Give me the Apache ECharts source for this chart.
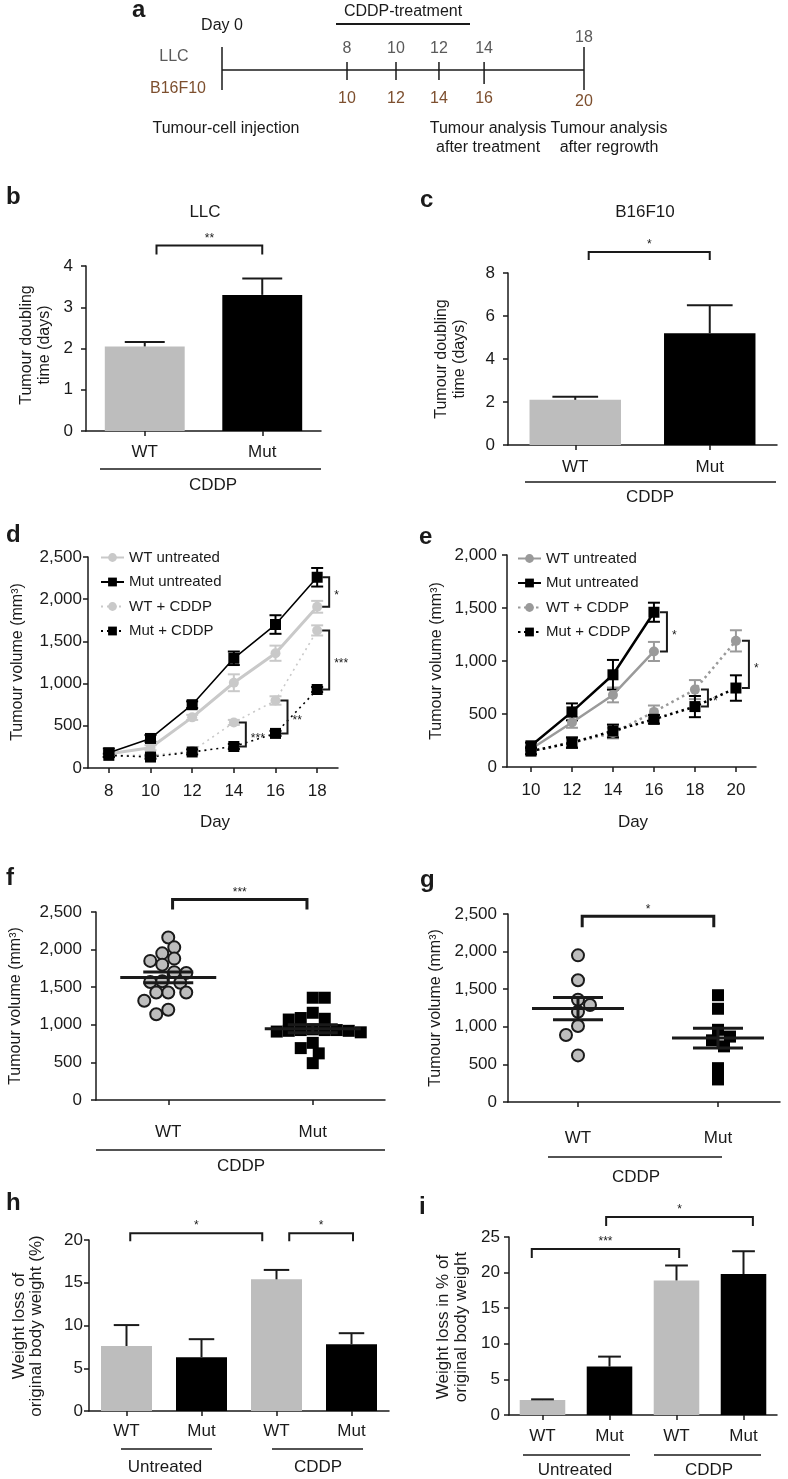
<!DOCTYPE html>
<html>
<head>
<meta charset="utf-8">
<title>Tumour growth figure</title>
<script src="https://cdn.jsdelivr.net/npm/echarts@6.0.0/dist/echarts.min.js"></script>
<style>
html,body{margin:0;padding:0;background:#ffffff;}
#chart{width:788px;height:1479px;}
</style>
</head>
<body>
<div id="chart"></div>
<script>
// ================= DATA =================
// a: experimental timeline
const timelineLLCDays = ['Day 0', '8', '10', '12', '14', '18'];
const timelineB16F10Days = ['', '10', '12', '14', '16', '20'];
const timelineNotes = ['Tumour-cell injection', '', '', '', 'Tumour analysis\nafter treatment', 'Tumour analysis\nafter regrowth'];

// b, c: tumour doubling time (days)
const doublingCategories = ['WT', 'Mut'];
const llcDoubling = [2.05, 3.30];
const llcDoublingErr = [0.11, 0.40];
const b16Doubling = [2.10, 5.20];
const b16DoublingErr = [0.15, 1.30];

// d: LLC tumour volume (mm3)
const llcDays = [8, 10, 12, 14, 16, 18];
const llcWTUntreated = [170, 240, 600, 1010, 1360, 1910];
const llcWTUntreatedErr = [30, 30, 30, 100, 90, 70];
const llcMutUntreated = [180, 350, 750, 1300, 1700, 2260];
const llcMutUntreatedErr = [50, 40, 40, 80, 110, 110];
const llcWTCDDP = [150, 150, 200, 540, 800, 1630];
const llcWTCDDPErr = [20, 20, 20, 30, 50, 60];
const llcMutCDDP = [150, 130, 190, 255, 410, 930];
const llcMutCDDPErr = [20, 20, 30, 30, 30, 30];

// e: B16F10 tumour volume (mm3)
const b16Days = [10, 12, 14, 16, 18, 20];
const b16WTUntreated = [170, 420, 680, 1090];
const b16WTUntreatedErr = [20, 50, 70, 90];
const b16MutUntreated = [200, 520, 870, 1460];
const b16MutUntreatedErr = [30, 80, 140, 90];
const b16WTCDDP = [150, 230, 320, 520, 730, 1190];
const b16WTCDDPErr = [20, 40, 50, 60, 90, 100];
const b16MutCDDP = [150, 230, 340, 450, 570, 745];
const b16MutCDDPErr = [30, 50, 60, 40, 100, 120];

// f, g: individual tumour volumes (mm3)
const volumeCategories = ['WT', 'Mut'];
const llcVolumeWT = [2160, 2030, 1950, 1880, 1850, 1800, 1700, 1690, 1580, 1570, 1560, 1430, 1430, 1430, 1320, 1200, 1140];
const llcVolumeMut = [1360, 1360, 1160, 1090, 1080, 1070, 930, 920, 940, 930, 930, 920, 910, 900, 760, 690, 620, 490];
const b16VolumeWT = [1950, 1620, 1360, 1290, 1200, 1010, 890, 620];
const b16VolumeMut = [1420, 1240, 960, 870, 820, 740, 450, 300];

// h, i: weight loss (%)
const weightGenotypes = ['WT', 'Mut', 'WT', 'Mut'];
const weightGroups = ['Untreated', 'CDDP'];
const llcWeightLoss = [7.6, 6.3, 15.4, 7.8];
const llcWeightLossErr = [2.45, 2.1, 1.1, 1.3];
const b16WeightLoss = [2.1, 6.8, 18.9, 19.8];
const b16WeightLossErr = [0.1, 1.4, 2.1, 3.2];

// significance annotations
const llcDoublingSig = [{from: 0, to: 1, y: 4.5, text: '**', shift: [0.1, 0]}];
const b16DoublingSig = [{from: 0, to: 1, y: 8.98, text: '*', shift: [0.1, 0]}];
const llcGrowthSig = [
  {day: 18, y1: llcMutUntreated[5], y2: llcWTUntreated[5], text: '*'},
  {day: 18, y1: llcWTCDDP[5], y2: llcMutCDDP[5], text: '***'},
  {day: 16, y1: llcWTCDDP[4], y2: llcMutCDDP[4], text: '**'},
  {day: 14, y1: llcWTCDDP[3], y2: llcMutCDDP[3], text: '***'}
];
const b16GrowthSig = [
  {day: 16, y1: b16MutUntreated[3], y2: b16WTUntreated[3], text: '*'},
  {day: 18, y1: b16WTCDDP[4], y2: b16MutCDDP[4], text: '*'},
  {day: 20, y1: b16WTCDDP[5], y2: b16MutCDDP[5], text: '*'}
];
const llcVolumeSig = [{from: 0.03, to: 0.96, y: 2667, text: '***'}];
const b16VolumeSig = [{from: 0.03, to: 0.97, y: 2470, text: '*'}];
const llcWeightSig = [
  {from: 0, to: 2, y: 20.8, text: '*', shift: [0.05, -0.19]},
  {from: 2, to: 3, y: 20.8, text: '*', shift: [0.17, 0.02]}
];
const b16WeightSig = [
  {from: 0, to: 2, y: 23.3, text: '***', shift: [-0.16, 0.04]},
  {from: 1, to: 3, y: 27.8, text: '*', shift: [-0.05, 0.14]}
];

// ================= STYLE / LAYOUT =================
const FONT = '"Liberation Sans", Arial, Helvetica, sans-serif';
const INK = '#1a1a1a';
const LIGHT = '#bdbdbd';
const LLC_GREY = '#5a5a5a';
const BROWN = '#7d4f2e';
const D_GREY = '#c9c9c9';
const E_GREY = '#9a9a9a';
const A_SLOTS = [0, 5.18, 7.21, 8.99, 10.86, 15];
const NOTE_DX = [4, 0, 0, 0, 4, 25];

function fmtThousands(v) { return String(v).replace(/\B(?=(\d{3})+(?!\d))/g, ','); }

const G = (left, top, width, height) => ({left, top, width, height, containLabel: false, outerBoundsMode: 'none'});
const grids = [
  G(222, 48, 362, 44),   // a
  G(86, 266, 235, 165),  // b
  G(508, 273, 269, 172), // c
  G(88, 557, 250, 211),  // d
  G(507, 555, 249, 212), // e
  G(96, 912, 289, 188),  // f
  G(508, 914, 272, 188), // g
  G(89, 1240, 300, 171), // h
  G(509, 1237, 268, 178) // i
];

const axisLineStyle = {color: INK, width: 1.5};
function yVal(gi, max, interval, margin, fmt) {
  return {type: 'value', gridIndex: gi, min: 0, max: max, interval: interval,
    axisLine: {show: true, onZero: false, lineStyle: axisLineStyle},
    axisTick: {show: true, length: 5, lineStyle: axisLineStyle},
    axisLabel: {color: INK, fontSize: 17, fontFamily: FONT, margin: margin, formatter: fmt},
    splitLine: {show: false}};
}
function xCat(gi, data, margin, fmt) {
  return {type: 'category', gridIndex: gi, data: data, boundaryGap: true,
    axisLine: {show: true, onZero: false, lineStyle: axisLineStyle},
    axisTick: {show: true, alignWithLabel: true, length: 5, lineStyle: axisLineStyle},
    axisLabel: {color: INK, fontSize: 17, fontFamily: FONT, margin: margin, formatter: fmt, interval: 0},
    splitLine: {show: false}};
}
function xVal(gi, min, max, ticks, margin, fmt) {
  return {type: 'value', gridIndex: gi, min: min, max: max,
    axisLine: {show: true, onZero: false, lineStyle: axisLineStyle},
    axisTick: {show: true, length: 5, lineStyle: axisLineStyle, customValues: ticks},
    axisLabel: {show: true, color: INK, fontSize: 17, fontFamily: FONT, margin: margin, customValues: ticks, formatter: fmt},
    splitLine: {show: false}};
}

// ================= RENDER HELPERS =================
function upperErr(params, api) {
  const x = api.value(0), v = api.value(1), e = api.value(2);
  const p0 = api.coord([x, v]), p1 = api.coord([x, v + e]);
  const cap = api.size([1, 0])[0] * 0.68 * 0.25;
  const st = {stroke: INK, lineWidth: 2};
  return {type: 'group', children: [
    {type: 'line', shape: {x1: p0[0], y1: p0[1], x2: p1[0], y2: p1[1]}, style: st},
    {type: 'line', shape: {x1: p1[0] - cap, y1: p1[1], x2: p1[0] + cap, y2: p1[1]}, style: st}
  ]};
}
function symErr(color, capHalf, lw) {
  return function (params, api) {
    const x = api.value(0), v = api.value(1), e = api.value(2);
    const lo = api.coord([x, v - e]), hi = api.coord([x, v + e]);
    const st = {stroke: color, lineWidth: lw};
    return {type: 'group', children: [
      {type: 'line', shape: {x1: lo[0], y1: lo[1], x2: hi[0], y2: hi[1]}, style: st},
      {type: 'line', shape: {x1: hi[0] - capHalf, y1: hi[1], x2: hi[0] + capHalf, y2: hi[1]}, style: st},
      {type: 'line', shape: {x1: lo[0] - capHalf, y1: lo[1], x2: lo[0] + capHalf, y2: lo[1]}, style: st}
    ]};
  };
}
function bracketSeries(gi, list, legPx, lw, fs) {
  return {type: 'custom', xAxisIndex: gi, yAxisIndex: gi, z: 6, silent: true,
    data: list.map(b => [b.from, b.y]),
    renderItem: function (params, api) {
      const b = list[params.dataIndex];
      const unit = api.size([1, 1])[0];
      const pa = api.coord([b.from, b.y]), pb = api.coord([b.to, b.y]);
      const sh = b.shift || [0, 0];
      const x1 = pa[0] + sh[0] * unit, x2 = pb[0] + sh[1] * unit, y = pa[1];
      return {type: 'group', children: [
        {type: 'polyline', shape: {points: [[x1, y + legPx], [x1, y], [x2, y], [x2, y + legPx]]}, style: {stroke: INK, lineWidth: lw, fill: null}},
        {type: 'text', x: (x1 + x2) / 2, y: y - 1, style: {text: b.text, fill: INK, font: fs + 'px ' + FONT, align: 'center', verticalAlign: 'bottom'}}
      ]};
    }};
}
function vBracketSeries(gi, list, dx, arm, fs) {
  return {type: 'custom', xAxisIndex: gi, yAxisIndex: gi, z: 6, silent: true,
    data: list.map(b => [b.day, b.y1]),
    renderItem: function (params, api) {
      const b = list[params.dataIndex];
      const p1 = api.coord([b.day, b.y1]), p2 = api.coord([b.day, b.y2]);
      const x = p1[0] + dx;
      return {type: 'group', children: [
        {type: 'polyline', shape: {points: [[x - arm, p1[1]], [x, p1[1]], [x, p2[1]], [x - arm, p2[1]]]}, style: {stroke: INK, lineWidth: 2, fill: null}},
        {type: 'text', x: x + 5, y: (p1[1] + p2[1]) / 2 + 4, style: {text: b.text, fill: INK, font: fs + 'px ' + FONT, align: 'left', verticalAlign: 'middle'}}
      ]};
    }};
}
function meanSem(arr) {
  const n = arr.length;
  const m = arr.reduce((a, b) => a + b, 0) / n;
  const sd = Math.sqrt(arr.reduce((a, b) => a + (b - m) * (b - m), 0) / (n - 1));
  return [m, sd / Math.sqrt(n)];
}
function meanSemSeries(gi, stats, halfMean, halfSem) {
  return {type: 'custom', xAxisIndex: gi, yAxisIndex: gi, z: 5, silent: true,
    data: stats.map((s, i) => [i, s[0], s[1]]),
    renderItem: function (params, api) {
      const x = api.value(0), m = api.value(1), s = api.value(2);
      const pm = api.coord([x, m]), ph = api.coord([x, m + s]), pl = api.coord([x, m - s]);
      const st = {stroke: INK, lineWidth: 3};
      return {type: 'group', children: [
        {type: 'line', shape: {x1: pm[0] - halfMean, y1: pm[1], x2: pm[0] + halfMean, y2: pm[1]}, style: st},
        {type: 'line', shape: {x1: ph[0] - halfSem, y1: ph[1], x2: ph[0] + halfSem, y2: ph[1]}, style: st},
        {type: 'line', shape: {x1: pl[0] - halfSem, y1: pl[1], x2: pl[0] + halfSem, y2: pl[1]}, style: st},
        {type: 'line', shape: {x1: pm[0], y1: ph[1], x2: pm[0], y2: pl[1]}, style: st}
      ]};
    }};
}
// simple beeswarm: horizontal offsets (in x units) so markers only slightly overlap
function beeswarm(values, pxPerY, pxPerX, diam) {
  const order = values.map((v, i) => i).sort((a, b) => values[b] - values[a]);
  const placed = [];
  const offs = values.map(() => 0);
  const step = diam * 0.5;
  let flip = 1;
  order.forEach(i => {
    const y = values[i] * pxPerY;
    let best = 0;
    for (let k = 0; k < 60; k++) {
      const cands = k === 0 ? [0] : [flip * k * step, -flip * k * step];
      let found = null;
      for (const x of cands) {
        if (placed.every(p => Math.hypot(p.x - x, p.y - y) >= diam * 0.92)) { found = x; break; }
      }
      if (found !== null) { best = found; break; }
    }
    if (best !== 0) flip = -flip;
    placed.push({x: best, y: y});
    offs[i] = best / pxPerX;
  });
  return offs;
}
function barSeries(gi, values, errs) {
  return [
    {type: 'bar', xAxisIndex: gi, yAxisIndex: gi, barWidth: '68%', z: 2,
      data: values.map((v, i) => ({value: v, itemStyle: {color: i % 2 === 0 ? LIGHT : '#000000'}}))},
    {type: 'custom', xAxisIndex: gi, yAxisIndex: gi, z: 3, silent: true, renderItem: upperErr,
      data: values.map((v, i) => [i, v, errs[i]])}
  ];
}
function lineWithErr(gi, key, name, days, vals, errs, color, width, dash, symbol, size) {
  return [
    {type: 'custom', xAxisIndex: gi, yAxisIndex: gi, z: 2, silent: true,
      renderItem: symErr(color, 6, 2), data: vals.map((v, i) => [days[i], v, errs[i]])},
    {type: 'line', name: key + '|' + name, xAxisIndex: gi, yAxisIndex: gi, z: 3,
      data: vals.map((v, i) => [days[i], v]), symbol: symbol, symbolSize: size, showSymbol: true,
      lineStyle: {color: color, width: width, type: dash || 'solid'},
      itemStyle: {color: color, borderWidth: 0}}
  ];
}

// ================= BUILD =================
const fStats = [meanSem(llcVolumeWT), meanSem(llcVolumeMut)];
const gStats = [meanSem(b16VolumeWT), meanSem(b16VolumeMut)];
const fOffWT = beeswarm(llcVolumeWT, 188 / 2500, 289 / 2, 12);
const fOffMut = beeswarm(llcVolumeMut, 188 / 2500, 289 / 2, 12);
const gOffWT = beeswarm(b16VolumeWT, 188 / 2500, 140, 12);
const gOffMut = beeswarm(b16VolumeMut, 188 / 2500, 140, 12);

const xAxes = [
  {type: 'value', gridIndex: 0, min: 0, max: 15, show: false},
  xCat(1, doublingCategories, 13),
  xCat(2, doublingCategories, 14),
  xVal(3, 7, 19, llcDays, 15, v => String(v)),
  xVal(4, 8.83, 20.98, b16Days, 15, v => String(v)),
  xVal(5, -0.5, 1.5, [0, 1], 24, v => volumeCategories[Math.round(v)]),
  xVal(6, -0.5, 1.443, [0, 1], 28, v => volumeCategories[Math.round(v)]),
  xCat(7, weightGenotypes.map((g, i) => String(i)), 12, v => weightGenotypes[+v]),
  xCat(8, weightGenotypes.map((g, i) => String(i)), 13, v => weightGenotypes[+v])
];
const yAxes = [
  {type: 'value', gridIndex: 0, min: -1, max: 1, show: false},
  yVal(1, 4, 1, 13),
  yVal(2, 8, 2, 13),
  yVal(3, 2500, 500, 6, fmtThousands),
  yVal(4, 2000, 500, 10, fmtThousands),
  yVal(5, 2500, 500, 14, fmtThousands),
  yVal(6, 2500, 500, 11, fmtThousands),
  yVal(7, 20, 5, 6),
  yVal(8, 25, 5, 9)
];

const series = [];
// a: timeline
series.push({type: 'custom', xAxisIndex: 0, yAxisIndex: 0, silent: true,
  data: A_SLOTS.map(s => [s, 0]),
  renderItem: function (params, api) {
    const i = params.dataIndex, n = timelineLLCDays.length;
    const p = api.coord([api.value(0), 0]);
    const major = i === 0 || i === n - 1;
    const kids = [];
    const st = {stroke: INK, lineWidth: 1.5};
    if (i === 0) {
      const q = api.coord([A_SLOTS[n - 1], 0]);
      kids.push({type: 'line', shape: {x1: p[0], y1: p[1], x2: q[0], y2: q[1]}, style: st});
    }
    const up = major ? 23 : 8, down = major ? 20 : (i === n - 2 ? 14 : 10);
    kids.push({type: 'line', shape: {x1: p[0], y1: p[1] - up, x2: p[0], y2: p[1] + down}, style: st});
    kids.push({type: 'text', x: p[0], y: p[1] - (i === 0 ? 44 : (major ? 32 : 21.5)),
      style: {text: timelineLLCDays[i], fill: i === 0 ? INK : LLC_GREY, font: '16px ' + FONT, align: 'center', verticalAlign: 'middle'}});
    if (timelineB16F10Days[i]) {
      kids.push({type: 'text', x: p[0], y: p[1] + (major ? 31.5 : 28.5),
        style: {text: timelineB16F10Days[i], fill: BROWN, font: '16px ' + FONT, align: 'center', verticalAlign: 'middle'}});
    }
    if (timelineNotes[i]) {
      kids.push({type: 'text', x: p[0] + NOTE_DX[i], y: p[1] + 49,
        style: {text: timelineNotes[i], fill: INK, font: '16px ' + FONT, align: 'center', verticalAlign: 'top', lineHeight: 19}});
    }
    return {type: 'group', children: kids};
  }});
// b, c
series.push(...barSeries(1, llcDoubling, llcDoublingErr));
series.push(bracketSeries(1, llcDoublingSig, 9, 2, 12));
series.push(...barSeries(2, b16Doubling, b16DoublingErr));
series.push(bracketSeries(2, b16DoublingSig, 8, 2, 12));
// d
series.push(...lineWithErr(3, 'd', 'WT untreated', llcDays, llcWTUntreated, llcWTUntreatedErr, D_GREY, 3, 'solid', 'circle', 10));
series.push(...lineWithErr(3, 'd', 'Mut untreated', llcDays, llcMutUntreated, llcMutUntreatedErr, '#000000', 1.6, 'solid', 'rect', 11));
series.push(...lineWithErr(3, 'd', 'WT + CDDP', llcDays, llcWTCDDP, llcWTCDDPErr, D_GREY, 1.6, [2, 4], 'circle', 10));
series.push(...lineWithErr(3, 'd', 'Mut + CDDP', llcDays, llcMutCDDP, llcMutCDDPErr, '#000000', 1.6, [2, 4], 'rect', 11));
series.push(vBracketSeries(3, llcGrowthSig, 12, 7, 12));
// e
series.push(...lineWithErr(4, 'e', 'WT untreated', b16Days.slice(0, 4), b16WTUntreated, b16WTUntreatedErr, E_GREY, 2.5, 'solid', 'circle', 10));
series.push(...lineWithErr(4, 'e', 'Mut untreated', b16Days.slice(0, 4), b16MutUntreated, b16MutUntreatedErr, '#000000', 2.5, 'solid', 'rect', 11));
series.push(...lineWithErr(4, 'e', 'WT + CDDP', b16Days, b16WTCDDP, b16WTCDDPErr, E_GREY, 2.5, [2.5, 3.5], 'circle', 10));
series.push(...lineWithErr(4, 'e', 'Mut + CDDP', b16Days, b16MutCDDP, b16MutCDDPErr, '#000000', 2.5, [2.5, 3.5], 'rect', 11));
series.push(vBracketSeries(4, b16GrowthSig, 13, 7, 12));
// f
series.push({type: 'scatter', xAxisIndex: 5, yAxisIndex: 5, z: 3, symbol: 'circle', symbolSize: 12,
  itemStyle: {color: LIGHT, borderColor: INK, borderWidth: 2, opacity: 1},
  data: llcVolumeWT.map((v, i) => [0 + fOffWT[i], v])});
series.push({type: 'scatter', xAxisIndex: 5, yAxisIndex: 5, z: 3, symbol: 'rect', symbolSize: 12,
  itemStyle: {color: '#000000', opacity: 1},
  data: llcVolumeMut.map((v, i) => [1 + fOffMut[i], v])});
series.push(meanSemSeries(5, fStats, 48, 25));
series.push(bracketSeries(5, llcVolumeSig, 10, 3, 12));
// g
series.push({type: 'scatter', xAxisIndex: 6, yAxisIndex: 6, z: 3, symbol: 'circle', symbolSize: 12,
  itemStyle: {color: LIGHT, borderColor: INK, borderWidth: 2, opacity: 1},
  data: b16VolumeWT.map((v, i) => [0 + gOffWT[i], v])});
series.push({type: 'scatter', xAxisIndex: 6, yAxisIndex: 6, z: 3, symbol: 'rect', symbolSize: 12,
  itemStyle: {color: '#000000', opacity: 1},
  data: b16VolumeMut.map((v, i) => [1 + gOffMut[i], v])});
series.push(meanSemSeries(6, gStats, 46, 25));
series.push(bracketSeries(6, b16VolumeSig, 11, 3, 12));
// h, i
series.push(...barSeries(7, llcWeightLoss, llcWeightLossErr));
series.push(bracketSeries(7, llcWeightSig, 8, 2, 12));
series.push(...barSeries(8, b16WeightLoss, b16WeightLossErr));
series.push(bracketSeries(8, b16WeightSig, 9, 2, 12));

// ================= TEXT / DECORATION =================
function T(text, x, y, o) {
  o = o || {};
  return {type: 'text', x: x, y: y, rotation: o.rot || 0, silent: true, z: 10,
    style: {text: text, fill: o.color || INK, font: (o.bold ? 'bold ' : '') + (o.size || 17) + 'px ' + FONT,
      align: o.align || 'center', verticalAlign: 'middle', lineHeight: o.lh || Math.round((o.size || 17) * 1.15)}};
}
function L(x1, y1, x2, y2, w) {
  return {type: 'line', silent: true, z: 10, shape: {x1: x1, y1: y1, x2: x2, y2: y2}, style: {stroke: INK, lineWidth: w || 1.5}};
}
const R = Math.PI / 2;
const graphics = [
  // panel letters
  T('a', 132, 10, {bold: true, size: 24, align: 'left'}),
  T('b', 6, 197, {bold: true, size: 24, align: 'left'}),
  T('c', 420, 200, {bold: true, size: 24, align: 'left'}),
  T('d', 6, 535, {bold: true, size: 24, align: 'left'}),
  T('e', 419, 537, {bold: true, size: 24, align: 'left'}),
  T('f', 6, 878, {bold: true, size: 24, align: 'left'}),
  T('g', 420, 880, {bold: true, size: 24, align: 'left'}),
  T('h', 6, 1203, {bold: true, size: 24, align: 'left'}),
  T('i', 419, 1207, {bold: true, size: 24, align: 'left'}),
  // a
  T('CDDP-treatment', 403, 12, {size: 16}),
  L(336, 24, 470, 24, 2),
  T('LLC', 174, 57, {size: 16, color: LLC_GREY}),
  T('B16F10', 178, 89, {size: 16, color: BROWN}),
  // b
  T('LLC', 205, 212),
  T('Tumour doubling\ntime (days)', 36, 345, {rot: R, size: 16, lh: 18}),
  L(100, 469, 321, 469),
  T('CDDP', 213, 485),
  // c
  T('B16F10', 645, 212),
  T('Tumour doubling\ntime (days)', 451, 359, {rot: R, size: 16, lh: 18}),
  L(525, 482, 776, 482),
  T('CDDP', 650, 497),
  // d
  T('Tumour volume (mm³)', 18, 662, {rot: R, size: 16}),
  T('Day', 215, 822),
  // e
  T('Tumour volume (mm³)', 437, 661, {rot: R, size: 16}),
  T('Day', 633, 822),
  // f
  T('Tumour volume (mm³)', 16, 1006, {rot: R, size: 16}),
  L(96, 1150, 385, 1150),
  T('CDDP', 241, 1166),
  // g
  T('Tumour volume (mm³)', 436, 1008, {rot: R, size: 16}),
  L(548, 1157, 722, 1157),
  T('CDDP', 636, 1177),
  // h
  T('Weight loss of\noriginal body weight (%)', 28, 1326, {rot: R, size: 17, lh: 17}),
  L(121, 1449, 212, 1449),
  L(272, 1449, 363, 1449),
  T(weightGroups[0], 165, 1467),
  T(weightGroups[1], 318, 1467),
  // i
  T('Weight loss in % of\noriginal body weight', 452, 1327, {rot: R, size: 17, lh: 18}),
  L(523, 1455, 630, 1455),
  L(654, 1455, 761, 1455),
  T(weightGroups[0], 575, 1470),
  T(weightGroups[1], 709, 1470)
];

const legendBase = {orient: 'vertical', itemWidth: 23, itemHeight: 11, itemGap: 9.5, padding: 0, selectedMode: false,
  textStyle: {fontSize: 15, fontFamily: FONT, color: INK}, formatter: n => n.split('|')[1]};
const legendNames = ['WT untreated', 'Mut untreated', 'WT + CDDP', 'Mut + CDDP'];

const option = {
  animation: false,
  backgroundColor: '#ffffff',
  textStyle: {fontFamily: FONT},
  grid: grids,
  xAxis: xAxes,
  yAxis: yAxes,
  legend: [
    Object.assign({}, legendBase, {left: 100, top: 550, data: legendNames.map(n => 'd|' + n)}),
    Object.assign({}, legendBase, {left: 517, top: 551, data: legendNames.map(n => 'e|' + n)})
  ],
  series: series,
  graphic: {elements: graphics}
};

const chart = echarts.init(document.getElementById('chart'), null, {renderer: 'canvas', width: 788, height: 1479});
chart.setOption(option);
</script>
</body>
</html>
